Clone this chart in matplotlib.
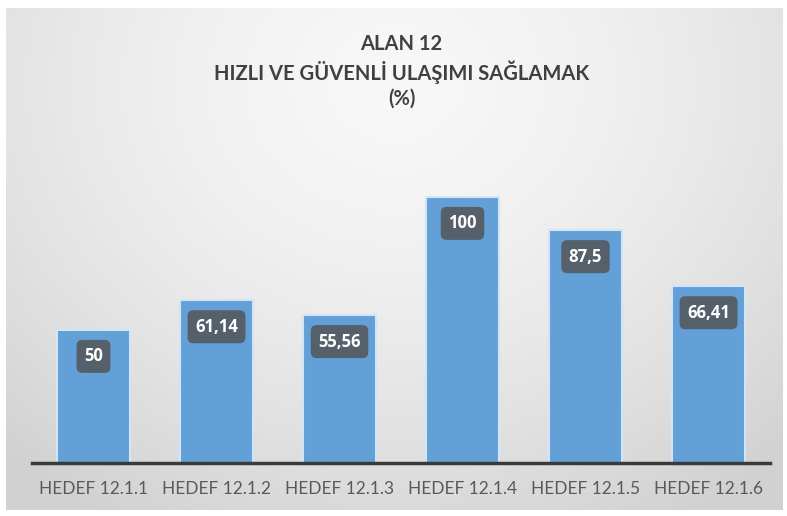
import numpy as np
import matplotlib
matplotlib.use("Agg")
import matplotlib.pyplot as plt

categories = ["HEDEF 12.1.1", "HEDEF 12.1.2", "HEDEF 12.1.3", "HEDEF 12.1.4", "HEDEF 12.1.5", "HEDEF 12.1.6"]
values = [50, 61.14, 55.56, 100, 87.5, 66.41]
labels = ["50", "61,14", "55,56", "100", "87,5", "66,41"]
title_lines = ["ALAN 12", "HIZLI VE GÜVENLİ ULAŞIMI SAĞLAMAK", "(%)"]

W, H = 787, 516
fig = plt.figure(figsize=(W / 100, H / 100), dpi=100)
fig.patch.set_facecolor("white")

# background radial gradient panel
bg = fig.add_axes([6 / W, 1 - 510 / H, 777 / W, 502 / H])
yy, xx = np.mgrid[0:1:300j, 0:1:500j]
r = np.sqrt(((xx - 0.5) / 0.75) ** 2 + ((yy - 0.15) / 1.0) ** 2)
shade = 0.97 - 0.15 * np.clip(r, 0, 1) ** 1.6
bg.imshow(np.dstack([shade] * 3), aspect="auto", extent=[0, 1, 0, 1], origin="upper")
bg.axis("off")

ax = fig.add_axes([32 / W, (516 - 463) / H, 738 / W, (463 - 143.8) / H])
ax.patch.set_alpha(0)
x = np.arange(len(categories))
bars = ax.bar(x, values, width=0.59, color="#64a0d8", edgecolor="#d2e5f6", linewidth=1.5, zorder=2)
ax.set_xlim(-0.5, len(categories) - 0.5)
ax.set_ylim(0, 120)
for s in ["top", "right", "left"]:
    ax.spines[s].set_visible(False)
ax.spines["bottom"].set_color("#3a3a3a")
ax.spines["bottom"].set_linewidth(2.5)
ax.spines["bottom"].set_zorder(3)
ax.set_yticks([])
ax.set_xticks(x)
ax.set_xticklabels(categories, fontsize=12.5, color="#595959", family="Lato")
ax.tick_params(axis="x", length=0, pad=13)

for xi, v, lab in zip(x, values, labels):
    ax.annotate(lab, (xi, v), xytext=(0, -19), textcoords="offset points",
                ha="center", va="center", color="white", fontsize=12, fontweight="bold",
                family="Open Sans",
                bbox=dict(boxstyle="round,pad=0.45,rounding_size=0.35", fc="#56606b", ec="none"),
                zorder=4)

ys = [44, 72, 99]
for t, yv in zip(title_lines, ys):
    fig.text(401.5 / W, 1 - yv / H, t, ha="center", va="center", fontsize=14.5,
             fontweight="bold", color="#404040", family="Lato")

fig.savefig("out.png", dpi=100)
